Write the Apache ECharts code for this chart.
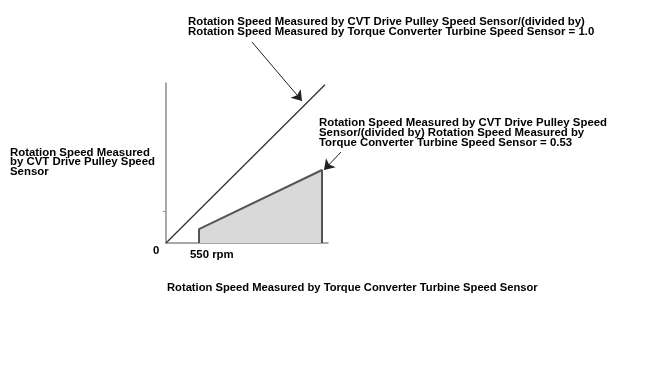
<!DOCTYPE html>
<html>
<head>
<meta charset="utf-8">
<script src="https://cdn.jsdelivr.net/npm/echarts@6/dist/echarts.min.js"></script>
<style>html,body{margin:0;padding:0;background:#fff}#c{width:658px;height:378px}</style>
</head>
<body>
<div id="c"></div>
<script>
// Data (x: turbine speed, y: drive pulley speed, same units)
const ratio1Line = [[0, 0], [2650, 2650]];
const ratio053Area = [[550, 0], [550, 234], [2600, 1223], [2600, 0]];
const yTicks = [535];
const arrow1 = [[1433, 3367], [2267, 2379]];
const arrow2 = [[2917, 1524], [2633, 1223]];
const labelTop = 'Rotation Speed Measured by CVT Drive Pulley Speed Sensor/(divided by)\nRotation Speed Measured by Torque Converter Turbine Speed Sensor = 1.0';
const labelMid = 'Rotation Speed Measured by CVT Drive Pulley Speed\nSensor/(divided by) Rotation Speed Measured by\nTorque Converter Turbine Speed Sensor = 0.53';
const labelY = 'Rotation Speed Measured\nby CVT Drive Pulley Speed\nSensor';
const labelX = 'Rotation Speed Measured by Torque Converter Turbine Speed Sensor';
const originLabel = '0';
const rpmLabel = '550 rpm';

const font = {fontFamily: '"Liberation Sans", Arial, sans-serif', fontWeight: 'bold', fontSize: 11.4, fill: '#000'};
function txt(x, y, text, lh, extra) {
  return {type: 'text', left: x, top: y, style: Object.assign({text: text, lineHeight: lh}, font, extra || {})};
}
const chart = echarts.init(document.getElementById('c'), null, {renderer: 'canvas'});
chart.setOption({
  animation: false,
  backgroundColor: '#fff',
  grid: {left: 166, top: 83, width: 162, height: 160},
  xAxis: {type: 'value', min: 0, max: 2700, axisLine: {lineStyle: {color: '#8c8c8c', width: 1.5}},
          axisTick: {show: false}, axisLabel: {show: false}, splitLine: {show: false}},
  yAxis: {type: 'value', min: 0, max: 2680, axisLine: {show: true, lineStyle: {color: '#8c8c8c', width: 1.5}},
          axisTick: {show: true, customValues: yTicks, length: 3, lineStyle: {color: '#8c8c8c'}},
          axisLabel: {show: false}, splitLine: {show: false}},
  series: [
    {type: 'line', data: ratio053Area, symbol: 'none', z: 2,
     lineStyle: {color: '#555', width: 2}, areaStyle: {color: '#d9d9d9', opacity: 1}},
    {type: 'line', data: ratio1Line, symbol: 'none', z: 3,
     lineStyle: {color: '#333', width: 1.3}},
    {type: 'lines', coordinateSystem: 'cartesian2d', clip: false, silent: true, z: 4,
     symbol: ['none', 'arrow'], symbolSize: [6, 10],
     lineStyle: {color: '#222', width: 1, opacity: 1, curveness: 0},
     data: [{coords: arrow1}, {coords: arrow2}]}
  ],
  graphic: [
    txt(188, 16, labelTop, 10),
    txt(319, 117, labelMid, 10),
    txt(10, 147, labelY, 9.5),
    txt(167, 282, labelX, 10, {fontSize: 11.2}),
    txt(153, 245, originLabel, 10),
    txt(190, 249, rpmLabel, 10)
  ]
});
</script>
</body>
</html>
